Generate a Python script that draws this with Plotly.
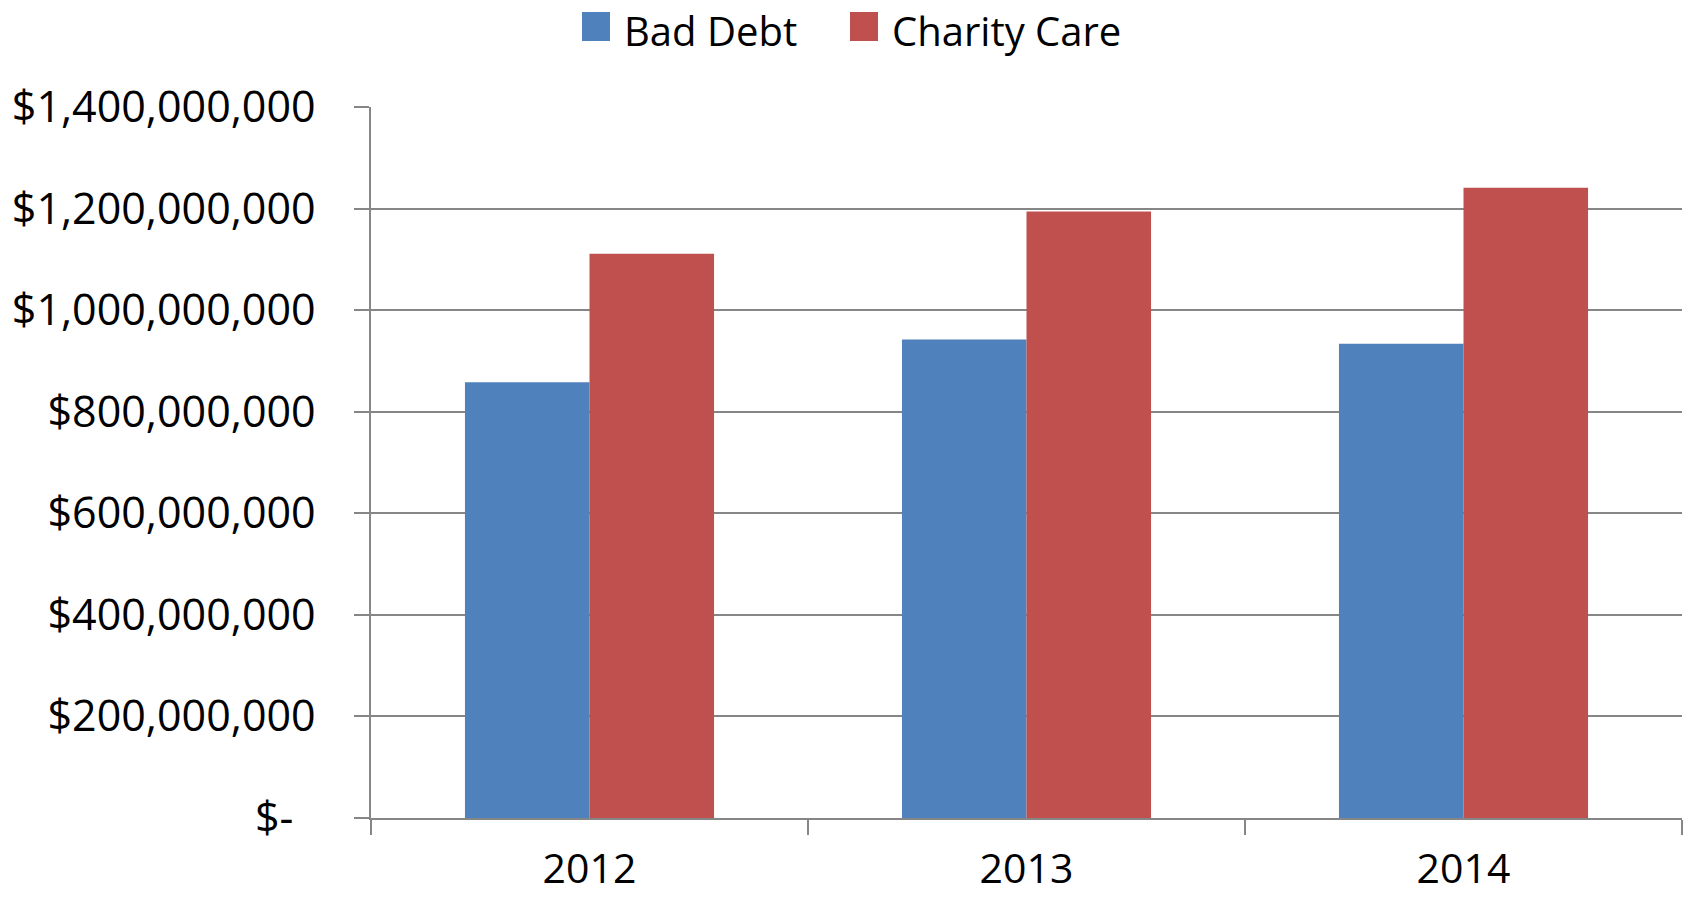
import plotly.graph_objects as go

years = ["2012", "2013", "2014"]
bad_debt = [858_000_000, 942_000_000, 934_000_000]
charity_care = [1_111_000_000, 1_194_000_000, 1_241_000_000]
y_tick_vals = [0, 200_000_000, 400_000_000, 600_000_000, 800_000_000,
               1_000_000_000, 1_200_000_000, 1_400_000_000]
y_tick_text = ["$-\u00a0\u00a0", "$200,000,000", "$400,000,000", "$600,000,000",
               "$800,000,000", "$1,000,000,000", "$1,200,000,000", "$1,400,000,000"]
series_names = ["Bad Debt", "Charity Care"]
series_colors = ["#4F81BD", "#C0504D"]

FONT = "Open Sans"
GRID = "#868686"

# plot area in pixels
L, R, T, B = 371, 9, 107, 80
W, H = 1691, 898
PW, PH = W - L - R, H - T - B


def px_x(px):
    return (px - L) / PW


def px_y(py):
    return (H - B - py) / PH


fig = go.Figure()
for name, vals, col in zip(series_names, [bad_debt, charity_care], series_colors):
    fig.add_trace(go.Bar(x=years, y=vals, name=name,
                         marker=dict(color=col, line=dict(width=0))))

# legend drawn as squares + text (Excel-style large swatches)
legend_swatch_x = [582, 850]
legend_text_x = [623, 891]
shapes = []
annotations = []
for name, col, sx, tx in zip(series_names, series_colors, legend_swatch_x, legend_text_x):
    shapes.append(dict(type="rect", xref="paper", yref="paper",
                       x0=px_x(sx), x1=px_x(sx + 28), y0=px_y(41), y1=px_y(12),
                       fillcolor=col, line=dict(width=0)))
    annotations.append(dict(text=name, xref="paper", yref="paper",
                            x=px_x(tx), y=px_y(30), xanchor="left", yanchor="middle",
                            showarrow=False, borderpad=0,
                            font=dict(family=FONT, size=40, color="black")))

fig.update_layout(
    width=W, height=H,
    margin=dict(l=L, r=R, t=T, b=B),
    paper_bgcolor="white", plot_bgcolor="white",
    font=dict(family=FONT, size=42, color="black"),
    barmode="group", bargap=0.43, bargroupgap=0,
    showlegend=False,
    shapes=shapes, annotations=annotations,
)
fig.update_yaxes(range=[0, 1_400_000_000], tickvals=y_tick_vals, ticktext=y_tick_text,
                 showgrid=True, gridcolor=GRID, gridwidth=1.5,
                 showline=True, linecolor=GRID, linewidth=1.5,
                 ticks="outside", ticklen=15, tickcolor=GRID, tickwidth=1.5,
                 ticklabelstandoff=30, zeroline=False, automargin=False,
                 tickfont=dict(family=FONT, size=43))
fig.update_xaxes(showline=True, linecolor=GRID, linewidth=2,
                 ticks="outside", tickson="boundaries", ticklen=15,
                 tickcolor=GRID, tickwidth=1.5, showgrid=False,
                 ticklabelstandoff=14, automargin=False,
                 tickfont=dict(family=FONT, size=41))

fig.write_html("out.html")
